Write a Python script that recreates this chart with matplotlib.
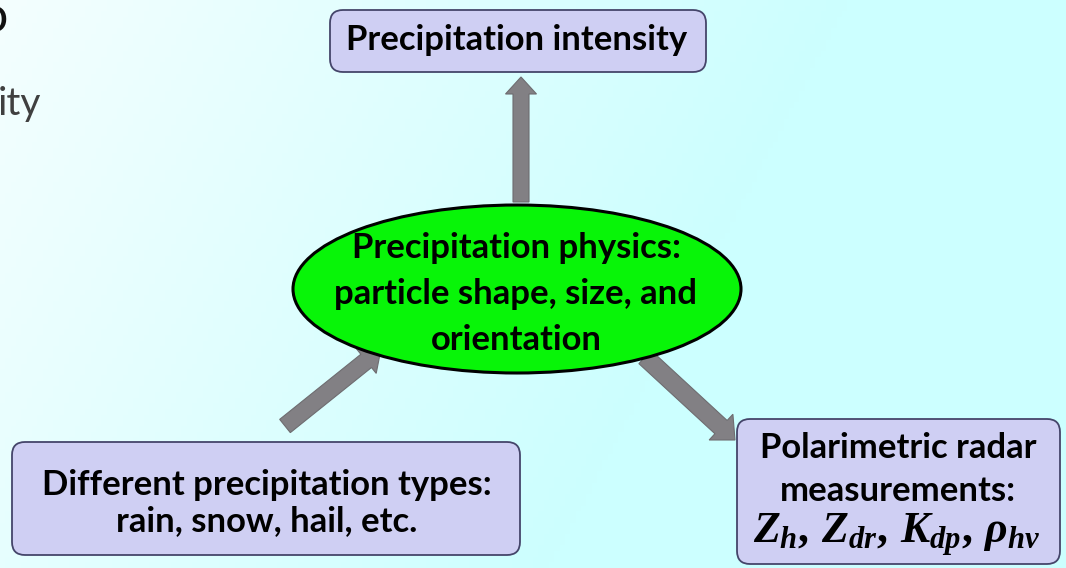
import numpy as np
import matplotlib.pyplot as plt
from matplotlib.patches import FancyBboxPatch, Ellipse, FancyArrow
from matplotlib.colors import LinearSegmentedColormap

plt.rcParams['mathtext.fontset'] = 'custom'
plt.rcParams['mathtext.it'] = 'Liberation Serif:bold:italic'
plt.rcParams['mathtext.rm'] = 'Liberation Serif:bold'
plt.rcParams['mathtext.bf'] = 'Liberation Serif:bold'

# node texts
top_lines = ["Precipitation intensity"]
center_lines = ["Precipitation physics:", "particle shape, size, and", "orientation"]
left_lines = ["Different precipitation types:", "rain, snow, hail, etc."]
right_lines = ["Polarimetric radar", "measurements:", r"$Z_h,\, Z_{dr},\, K_{dp},\, \rho_{hv}$"]
fragments = ["o", "ity"]

W, H = 1066, 568
fig = plt.figure(figsize=(W / 100, H / 100), dpi=100)
ax = fig.add_axes([0, 0, 1, 1])
ax.set_xlim(0, W)
ax.set_ylim(H, 0)
ax.axis("off")

# background gradient, pale at the top left, cyan to the right
xx, yy = np.meshgrid(np.linspace(0, 1, 200), np.linspace(0, 1, 100))
g = np.clip(xx * 1.25 + yy * 0.35, 0, 1)
cmap = LinearSegmentedColormap.from_list("bg", ["#f4fefe", "#ccffff"])
ax.imshow(g, cmap=cmap, extent=[0, W, H, 0], aspect="auto", zorder=0)

renderer = fig.canvas.get_renderer()
texts = []


def line(x, y, s, width, **kw):
    t = ax.text(x, y, s, ha="center", va="baseline", fontsize=20,
                family="Lato", weight="bold", zorder=5, **kw)
    bb = t.get_window_extent(renderer)
    texts.append((t, 20 * width / bb.width))
    return t


def box(x0, y0, x1, y1):
    p = FancyBboxPatch((x0, y0), x1 - x0, y1 - y0, boxstyle="round,pad=0,rounding_size=13",
                       fc="#cfcff3", ec="#45456a", lw=1.3, zorder=3)
    ax.add_patch(p)


def arrow(x0, y0, x1, y1, w, hw, hl):
    a = FancyArrow(x0, y0, x1 - x0, y1 - y0, width=w, head_width=hw, head_length=hl,
                   length_includes_head=True, fc="#828084", ec="#6e6c70", lw=0.8, zorder=2)
    ax.add_patch(a)


# cut-off slide text on the left
ax.text(8, 32, fragments[0], ha="right", va="baseline", fontsize=36, family="Lato", color="#111111")
ax.text(41, 115, fragments[1], ha="right", va="baseline", fontsize=28, family="Lato", color="#404040")

# arrows
arrow(521, 202, 521, 77, 16, 31, 17)
arrow(285, 426, 381, 349, 17, 32, 19)
arrow(645, 357, 735, 440, 18, 35, 19)

# top box
box(330, 10, 706, 72)
line(517, 50, top_lines[0], 343)

# ellipse
ax.add_patch(Ellipse((517, 289), 448, 168, fc="#08f508", ec="black", lw=2.2, zorder=3))
line(516, 258, center_lines[0], 334)
line(516, 304, center_lines[1], 382)
line(516, 350, center_lines[2], 170)

# bottom left box
box(12, 442, 520, 555)
line(267, 495, left_lines[0], 441)
line(267, 531, left_lines[1], 262)

# bottom right box
box(737, 419, 1060, 564)
line(898, 458, right_lines[0], 282)
line(898, 501, right_lines[1], 200)

# one common size for all bold labels
size = np.median([s for _, s in texts])
for t, _ in texts:
    t.set_fontsize(size)

m = ax.text(897, 543, right_lines[2], ha="center", va="baseline", fontsize=24, zorder=5)
bb = m.get_window_extent(renderer)
m.set_fontsize(24 * 288 / bb.width)

fig.savefig("out.png", dpi=100)
